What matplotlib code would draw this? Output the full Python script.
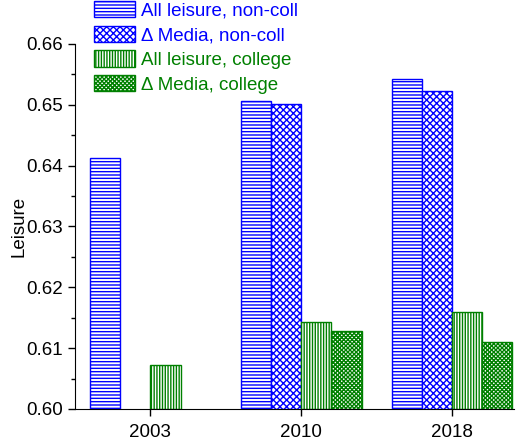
import numpy as np
import matplotlib.pyplot as plt

plt.rcParams['font.family'] = ['Liberation Sans', 'DejaVu Sans']
plt.rcParams['hatch.linewidth'] = 1.0

years = ['2003', '2010', '2018']
all_noncoll = [0.6413, 0.6506, 0.6542]
media_noncoll = [np.nan, 0.6502, 0.6523]
all_coll = [0.6072, 0.6143, 0.6159]
media_coll = [np.nan, 0.6129, 0.6110]

labels = ['All leisure, non-coll', '\u0394 Media, non-coll',
          'All leisure, college', '\u0394 Media, college']
blue = '#0000ff'
green = '#008000'

fig = plt.figure(figsize=(5.23, 4.48), dpi=100)
ax = fig.add_axes([75 / 523, 1 - 409 / 448, (514 - 75) / 523, (409 - 44) / 448])

x = np.arange(len(years))
w = 0.2
series = [all_noncoll, media_noncoll, all_coll, media_coll]
colors = [blue, blue, green, green]
hatches = ['-----', 'xxxxx', '||||||', 'xxxxxxxx']
offsets = [-1.5, -0.5, 0.5, 1.5]
for vals, c, h, off, lab in zip(series, colors, hatches, offsets, labels):
    ax.bar(x + off * w, np.array(vals) - 0.6, width=w, bottom=0.6,
           facecolor='white', edgecolor=c, hatch=h, linewidth=1.0, label=lab)

fs = 13.5
ax.set_xlim(-0.5, 2.41)
ax.set_ylim(0.60, 0.66)
ax.set_xticks(x)
ax.set_xticklabels(years)
ax.set_yticks(np.arange(0.60, 0.6601, 0.01))
ax.set_yticklabels(['%.2f' % v for v in np.arange(0.60, 0.6601, 0.01)])
ax.set_yticks(np.arange(0.605, 0.66, 0.01), minor=True)
ax.tick_params(axis='both', which='major', length=5, width=1, labelsize=fs, direction='out')
ax.tick_params(axis='x', which='major', pad=6)
ax.tick_params(axis='y', which='minor', length=3, width=1, direction='out')
ax.spines['top'].set_visible(False)
ax.spines['right'].set_visible(False)
ax.set_ylabel('Leisure', fontsize=fs)
ax.yaxis.set_label_coords(-0.109, 0.5)

leg = ax.legend(loc='upper left', bbox_to_anchor=(94 / 523, 1 - 1 / 448),
                bbox_transform=fig.transFigure, frameon=False, fontsize=fs,
                borderpad=0, borderaxespad=0, handlelength=2.2, handleheight=0.95,
                handletextpad=0.3, labelspacing=0.33)
for t, c in zip(leg.get_texts(), colors):
    t.set_color(c)

fig.savefig('out.png', dpi=100)
